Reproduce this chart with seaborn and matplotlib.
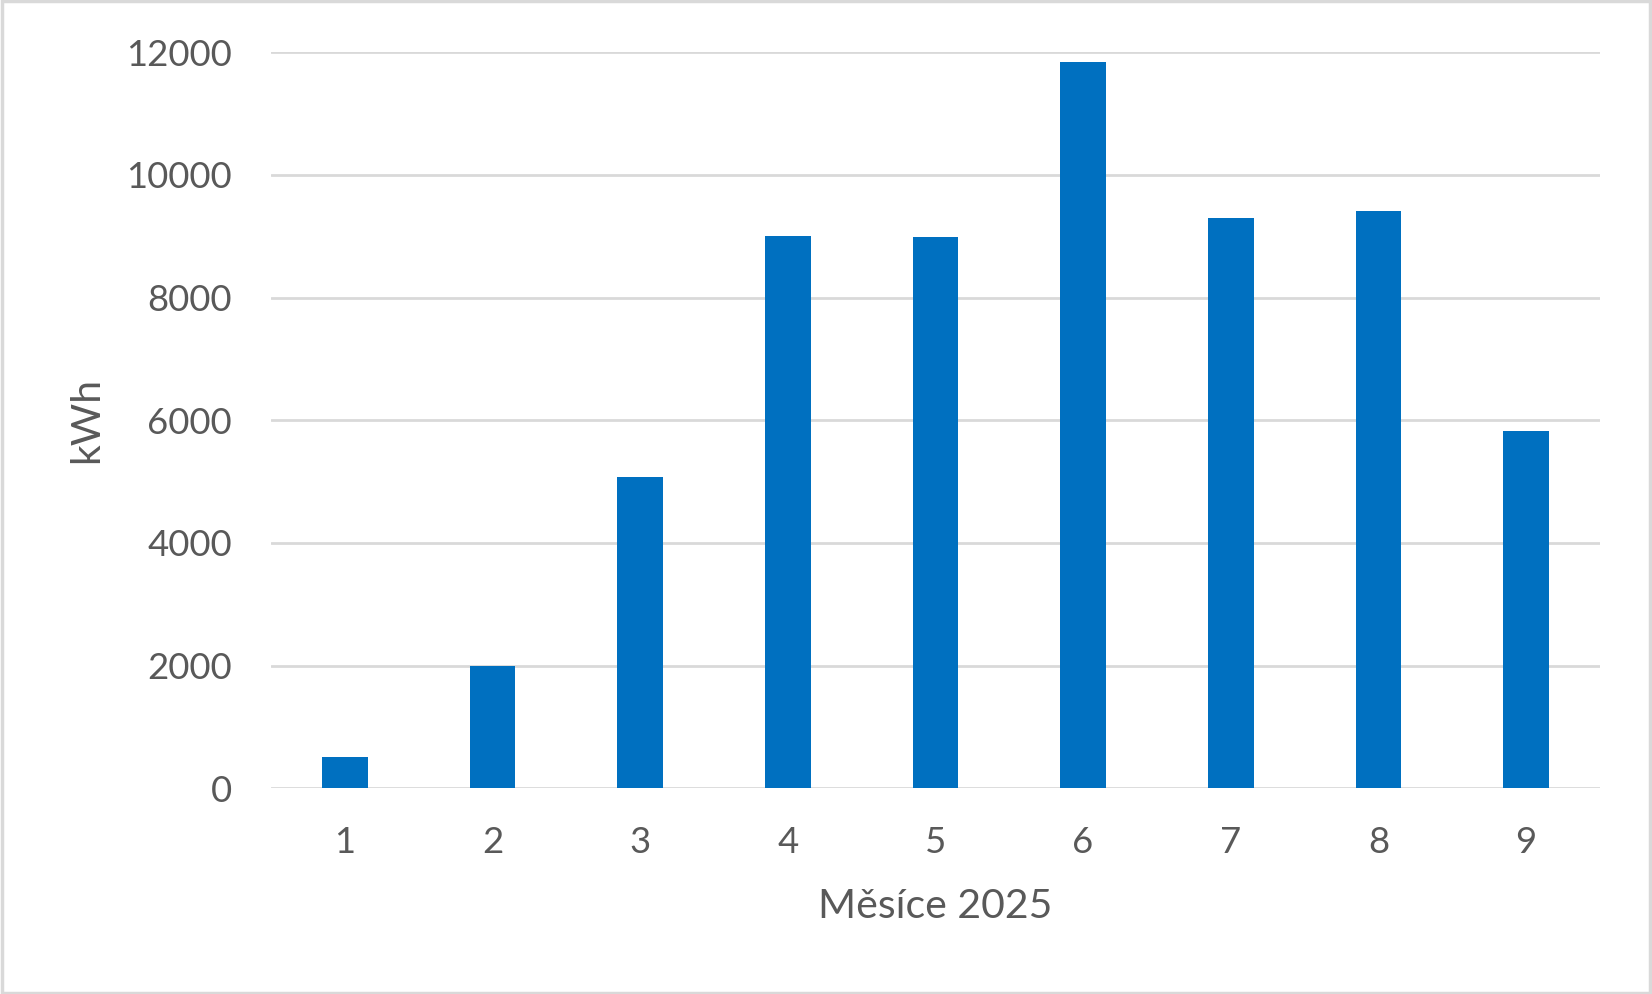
"""
Monthly energy production 2025 (kWh) – bar chart.
"""

import numpy as np
import pandas as pd
import matplotlib
matplotlib.use("Agg")
import matplotlib.pyplot as plt
import seaborn as sns
from matplotlib.patches import Rectangle

# ── Data ──────────────────────────────────────────────────────
MONTHS = ["1", "2", "3", "4", "5", "6", "7", "8", "9"]
KWH    = [510, 2000, 5080, 9010, 8995, 11835, 9295, 9410, 5820]

Y_TICKS = [0, 2000, 4000, 6000, 8000, 10000, 12000]
X_LABEL = "Měsíce 2025"
Y_LABEL = "kWh"

# ── Style ─────────────────────────────────────────────────────
BAR_COLOR  = "#0070C0"
GRID_COLOR = "#D9D9D9"
TEXT_COLOR = "#595959"

sns.set_theme(style="white")
plt.rcParams["font.family"] = ["Lato", "DejaVu Sans"]


def main():
    df = pd.DataFrame({"month": MONTHS, "kwh": KWH})

    fig = plt.figure(figsize=(16.52, 9.94), dpi=100)
    ax = fig.add_axes([0.164, 0.2069, 0.8045, 0.7405])

    sns.barplot(data=df, x="month", y="kwh", order=MONTHS,
                color=BAR_COLOR, saturation=1, width=0.31,
                linewidth=0, ax=ax, zorder=3)

    ax.set_ylim(0, 12000)
    ax.set_xlim(-0.5, len(MONTHS) - 0.5)
    ax.set_yticks(Y_TICKS)
    ax.set_yticklabels([str(t) for t in Y_TICKS])

    ax.grid(axis="y", color=GRID_COLOR, linewidth=2.0, zorder=0)
    ax.grid(axis="x", visible=False)
    ax.set_axisbelow(True)
    for side in ["top", "right", "left", "bottom"]:
        ax.spines[side].set_visible(False)

    ax.tick_params(axis="y", length=0, pad=28, labelsize=26.3,
                   labelcolor=TEXT_COLOR)
    ax.tick_params(axis="x", length=0, pad=27, labelsize=26.3,
                   labelcolor=TEXT_COLOR)

    ax.set_xlabel(X_LABEL, fontsize=29.5, color=TEXT_COLOR)
    ax.set_ylabel(Y_LABEL, fontsize=29.5, color=TEXT_COLOR)
    ax.xaxis.set_label_coords(0.5, -0.136)
    ax.yaxis.set_label_coords(-0.125, 0.5)

    # light grey frame round the whole chart
    fig.patches.append(Rectangle((0.001, 0.0015), 0.998, 0.997,
                                 transform=fig.transFigure, fill=False,
                                 edgecolor=GRID_COLOR, linewidth=2.5))

    fig.savefig("out.png", dpi=100, facecolor="white")
    plt.close(fig)


if __name__ == "__main__":
    main()
